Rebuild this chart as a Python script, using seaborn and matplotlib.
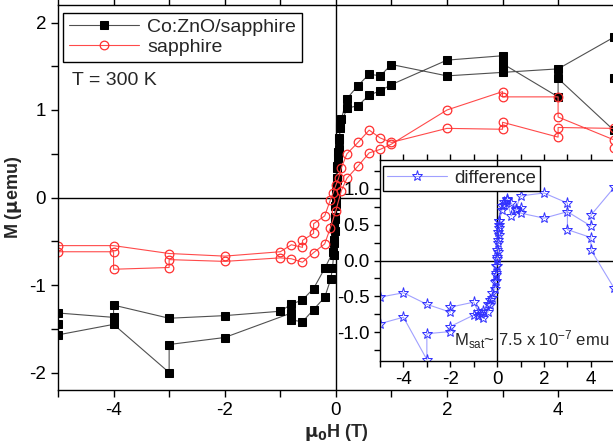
import numpy as np
import pandas as pd
import matplotlib
matplotlib.use("Agg")
import matplotlib.pyplot as plt
import seaborn as sns

co_h = [5, 4, 3, 2, 1, 0.8, 0.6, 0.4, 0.2, 0.1, 0.08, 0.06, 0.05, 0.04, 0.03, 0.02, 0.01, 0.0,
        -0.01, -0.02, -0.03, -0.04, -0.05, -0.2, -0.4, -0.6, -0.8, -1, -2, -3, -4, -4, -5, -5, -5,
        -4, -3, -3, -2, -0.8, -0.8, -0.6, -0.4, -0.2, -0.09, -0.06, -0.04, -0.03, -0.02, -0.01, 0.0,
        0.01, 0.02, 0.03, 0.04, 0.06, 0.08, 0.2, 0.4, 0.6, 0.8, 1, 2, 3, 3, 4, 4, 5, 5]
co_m = [1.83, 1.47, 1.43, 1.39, 1.52, 1.39, 1.41, 1.28, 1.13, 0.90, 0.80, 0.68, 0.56, 0.45, 0.34,
        0.22, 0.10, 0.00, -0.10, -0.22, -0.34, -0.48, -0.62, -0.81, -1.04, -1.17, -1.22, -1.30,
        -1.35, -1.38, -1.23, -1.37, -1.32, -1.45, -1.57, -1.45, -2.00, -1.68, -1.60, -1.32, -1.40,
        -1.42, -1.28, -1.14, -0.93, -0.80, -0.66, -0.52, -0.38, -0.24, -0.10, 0.05, 0.20, 0.36,
        0.52, 0.66, 0.82, 1.02, 1.05, 1.17, 1.22, 1.29, 1.57, 1.62, 1.53, 1.15, 1.36, 0.77, 1.36]

sap_h = [5, 4, 4, 3, 3, 2, 1, 0.8, 0.6, 0.4, 0.2, 0.1, 0.05, 0.0, -0.05, -0.1, -0.2, -0.4, -0.4,
         -0.6, -0.6, -0.8, -1, -2, -3, -4, -5, -5, -4, -4, -3, -3, -2, -1, -0.8, -0.6, -0.4, -0.2,
         -0.1, 0.0, 0.1, 0.2, 0.4, 0.6, 0.8, 1, 2, 3, 3, 4, 4, 5, 5]
sap_m = [0.79, 0.80, 0.69, 0.86, 0.78, 0.79, 0.63, 0.68, 0.77, 0.63, 0.50, 0.34, 0.22, 0.14,
         0.05, -0.03, -0.21, -0.30, -0.41, -0.49, -0.57, -0.54, -0.62, -0.67, -0.64, -0.55, -0.55,
         -0.62, -0.62, -0.82, -0.80, -0.71, -0.73, -0.69, -0.70, -0.74, -0.63, -0.53, -0.35, -0.15,
         0.08, 0.22, 0.36, 0.51, 0.55, 0.61, 1.00, 1.21, 1.15, 1.15, 0.92, 0.66, 0.57]

diff_h = [5, 4, 4, 3, 2, 1, 1, 0.8, 0.6, 0.4, 0.3, 0.2, 0.1, 0.08, 0.06, 0.04, 0.02, 0.0, -0.02,
          -0.04, -0.06, -0.1, -0.2, -0.3, -0.4, -0.6, -0.8, -1, -2, -2, -3, -4, -5, -5, -4, -3, -3,
          -2, -2, -1, -0.8, -0.7, -0.6, -0.4, -0.3, -0.2, -0.1, -0.06, -0.04, -0.02, 0.0, 0.02,
          0.04, 0.06, 0.1, 0.2, 0.3, 0.4, 0.6, 0.8, 1, 2, 3, 3, 4, 4, 5]
diff_m = [1.02, 0.63, 0.48, 0.68, 0.59, 0.66, 0.73, 0.70, 0.80, 0.86, 0.82, 0.76, 0.55, 0.45,
          0.35, 0.25, 0.12, 0.02, -0.08, -0.18, -0.28, -0.40, -0.52, -0.62, -0.72, -0.80, -0.72,
          -0.58, -0.65, -0.72, -0.61, -0.45, -0.51, -0.88, -0.79, -1.38, -1.02, -0.99, -0.92,
          -0.76, -0.78, -0.74, -0.70, -0.60, -0.55, -0.45, -0.30, -0.20, -0.08, 0.05, 0.15, 0.28,
          0.40, 0.50, 0.55, 0.70, 0.78, 0.84, 0.62, 0.72, 0.90, 0.94, 0.80, 0.43, 0.32, 0.15, -0.39]

co_df = pd.DataFrame({"H": co_h, "M": co_m})
sap_df = pd.DataFrame({"H": sap_h, "M": sap_m})
diff_df = pd.DataFrame({"H": diff_h, "M": diff_m})

sns.set_style("ticks")
plt.rcParams["font.family"] = ["Liberation Sans", "DejaVu Sans"]
plt.rcParams["axes.unicode_minus"] = False
plt.rcParams["mathtext.default"] = "regular"

fig = plt.figure(figsize=(6.13, 4.43), dpi=100)
W, H = 613, 443
# main axes (right part of the original figure is cut off)
ax = fig.add_axes([58 / W, (H - 390) / H, (647 - 58) / W, 385 / H])

sns.lineplot(data=co_df, x="H", y="M", sort=False, estimator=None, ax=ax,
             color="#505050", lw=0.8, marker="s", markersize=5.3, mfc="black", mec="black",
             label="Co:ZnO/sapphire")
sns.lineplot(data=sap_df, x="H", y="M", sort=False, estimator=None, ax=ax,
             color="#ff4a4a", lw=0.8, marker="o", markersize=6.2, mfc="none", mec="#ff3030",
             mew=0.9, label="sapphire")
ax.axhline(0, color="black", lw=1, zorder=0)
ax.axvline(0, color="black", lw=1, zorder=0)

ax.set_xlim(-5, 5.6)
ax.set_ylim(-2.2, 2.2)
ax.set_xticks([-4, -2, 0, 2, 4])
ax.set_xticks([-5, -3, -1, 1, 3, 5], minor=True)
ax.set_yticks([-2, -1, 0, 1, 2])
ax.set_yticks(np.arange(-2, 2.01, 0.5), minor=True)
ax.tick_params(axis="both", which="both", direction="out", length=5, width=1,
               labelsize=13.5, colors="black")
ax.tick_params(axis="x", which="both", top=True, labeltop=False)
for s in ax.spines.values():
    s.set_linewidth(1)
    s.set_color("black")

ax.set_xlabel(r"$\mathbf{\mu_0}$H (T)", fontsize=13, fontweight="bold")
ax.set_ylabel(r"M ($\mathbf{\mu}$emu)", fontsize=13, fontweight="bold", labelpad=4)
ax.xaxis.set_label_coords((336 - 58) / 589, -0.082)

leg = ax.legend(loc="upper left", bbox_to_anchor=(0.008, 0.98), borderaxespad=0,
                fontsize=14, fancybox=False, edgecolor="black", framealpha=1,
                handlelength=3.6, handletextpad=0.45, borderpad=0.3, labelspacing=0.12)
leg.get_frame().set_linewidth(1)
ax.text(0.024, 0.803, "T = 300 K", transform=ax.transAxes, fontsize=14, va="center")

# inset with the difference
axi = fig.add_axes([380 / W, (H - 361) / H, (626 - 380) / W, 201 / H])
axi.set_facecolor("white")
sns.lineplot(data=diff_df, x="H", y="M", sort=False, estimator=None, ax=axi,
             color="#a0a0ff", lw=0.8, marker="*", markersize=8, mfc="none", mec="#3030ff",
             mew=0.7, label="difference")
axi.axhline(0, color="black", lw=1, zorder=0)
axi.axvline(0, color="black", lw=1, zorder=0)
axi.set_xlim(-5, 5.5)
axi.set_ylim(-1.4, 1.4)
axi.set_xticks([-4, -2, 0, 2, 4])
axi.set_xticks([-5, -3, -1, 1, 3, 5], minor=True)
axi.set_yticks([-1.0, -0.5, 0.0, 0.5, 1.0])
axi.set_yticks(np.arange(-1.25, 1.3, 0.5), minor=True)
axi.yaxis.set_major_formatter(matplotlib.ticker.FormatStrFormatter("%.1f"))
axi.tick_params(axis="both", which="both", direction="out", length=4, width=1,
                labelsize=13.5, colors="black")
axi.tick_params(axis="x", which="both", top=True, labeltop=False)
axi.set_xlabel("")
axi.set_ylabel("")
for s in axi.spines.values():
    s.set_linewidth(1)
    s.set_color("black")
lg2 = axi.legend(loc="upper left", bbox_to_anchor=(0.012, 0.97), borderaxespad=0,
                 fontsize=13.5, fancybox=False, edgecolor="black", framealpha=1,
                 handlelength=3.2, handletextpad=0.4, borderpad=0.2)
lg2.get_frame().set_linewidth(1)
axi.text(0.3, 0.075, r"M$_{sat}$~ 7.5 x 10$^{-7}$ emu", transform=axi.transAxes,
         fontsize=12)

fig.savefig("out.png", dpi=100)
